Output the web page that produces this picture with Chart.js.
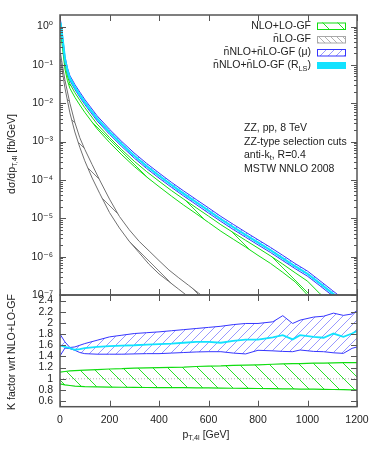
<!DOCTYPE html>
<html>
<head>
<meta charset="utf-8">
<script src="https://cdn.jsdelivr.net/npm/chart.js@4.4.1/dist/chart.umd.min.js"></script>
<style>
    html, body { margin: 0; padding: 0; background: #fff; }
    #wrap { position: relative; width: 374px; height: 449px; }
    #wrap canvas { position: absolute; left: 0; }
</style>
</head>
<body>
<div id="wrap">
    <canvas id="top" width="374" height="305" style="top:0"></canvas>
    <canvas id="bot" width="374" height="159" style="top:290px"></canvas>
</div>
<script>
// top panel: dsigma/dpT,4l [fb/GeV]
const ptTop = [2, 10, 20, 30, 40, 60, 80, 100, 150, 200, 250, 300, 350, 400, 450, 500, 550, 600, 650, 700, 750, 800, 850, 900, 950, 1000, 1050, 1100, 1150, 1200];
const nnloRls = [1.26, 0.50, 0.141, 0.0708, 0.0447, 0.0263, 0.0166, 0.0107, 3.98e-3, 1.78e-3, 8.5e-4, 4.27e-4, 2.29e-4, 1.29e-4, 7.4e-5, 4.37e-5, 2.63e-5, 1.58e-5, 9.5e-6, 5.9e-6, 3.7e-6, 2.34e-6, 1.48e-6, 9.1e-7, 5.6e-7, 3.55e-7, 2.0e-7, 1.12e-7, 6.3e-8, 3.5e-8];
const nnloMuUp = [1.48, 0.59, 0.166, 0.0835, 0.0527, 0.031, 0.0196, 0.0126, 4.7e-3, 2.1e-3, 1.0e-3, 5.03e-4, 2.7e-4, 1.52e-4, 8.7e-5, 5.15e-5, 3.1e-5, 1.87e-5, 1.12e-5, 6.95e-6, 4.36e-6, 2.76e-6, 1.75e-6, 1.08e-6, 6.6e-7, 4.2e-7, 2.36e-7, 1.32e-7, 7.4e-8, 4.1e-8];
const nnloMuDn = [1.1, 0.435, 0.123, 0.0616, 0.0389, 0.0229, 0.0144, 9.3e-3, 3.46e-3, 1.55e-3, 7.4e-4, 3.72e-4, 1.99e-4, 1.12e-4, 6.45e-5, 3.8e-5, 2.29e-5, 1.37e-5, 8.3e-6, 5.1e-6, 3.22e-6, 2.03e-6, 1.29e-6, 7.9e-7, 4.87e-7, 3.09e-7, 1.74e-7, 9.7e-8, 5.5e-8, 3.0e-8];
const nloUp = [0.91, 0.36, 0.1015, 0.051, 0.0322, 0.0189, 0.012, 7.7e-3, 2.87e-3, 1.28e-3, 6.1e-4, 3.07e-4, 1.65e-4, 9.3e-5, 5.3e-5, 3.15e-5, 1.89e-5, 1.14e-5, 6.8e-6, 4.25e-6, 2.66e-6, 1.68e-6, 1.05e-6, 6.4e-7, 3.8e-7, 2.3e-7, 1.08e-7, 5.8e-8, 3.2e-8, 1.8e-8];
const nloDn = [0.71, 0.28, 0.078, 0.039, 0.0246, 0.0143, 9.0e-3, 5.8e-3, 2.15e-3, 9.5e-4, 4.5e-4, 2.25e-4, 1.2e-4, 6.7e-5, 3.8e-5, 2.2e-5, 1.32e-5, 7.8e-6, 4.6e-6, 2.85e-6, 1.78e-6, 1.08e-6, 6.7e-7, 3.9e-7, 2.2e-7, 1.0e-7, 5.5e-8, 3.0e-8, 1.7e-8, 1.0e-8];

const ptLO = [2, 20, 40, 60, 80, 100, 130, 160, 200, 240, 280, 320, 360, 400, 440, 480, 520, 560, 600];
const loUp = [0.2, 0.04, 0.01, 3.16e-3, 1.26e-3, 6.3e-4, 2.5e-4, 1.0e-4, 3.16e-5, 1.12e-5, 5.0e-6, 2.5e-6, 1.41e-6, 7.9e-7, 4.5e-7, 2.8e-7, 1.78e-7, 1.12e-7, 7.1e-8];
const loDn = [0.141, 0.025, 5.6e-3, 1.78e-3, 7.1e-4, 3.16e-4, 1.12e-4, 4.5e-5, 1.41e-5, 5.6e-6, 2.5e-6, 1.26e-6, 6.3e-7, 3.55e-7, 2.24e-7, 1.41e-7, 8.9e-8, 5.6e-8, 3.5e-8];

// bottom panel: K factor wrt NLO+LO-GF
const ptK = [0, 20, 40, 60, 80, 100, 150, 200, 250, 300, 350, 400, 450, 500, 550, 600, 650, 700, 750, 800, 860, 900, 940, 970, 1025, 1065, 1105, 1145, 1180, 1200];
const kMuUp = [1.80, 1.66, 1.56, 1.57, 1.60, 1.63, 1.69, 1.75, 1.78, 1.81, 1.825, 1.84, 1.86, 1.88, 1.90, 1.92, 1.94, 1.97, 1.99, 1.99, 2.02, 2.13, 1.99, 2.05, 2.105, 2.12, 2.175, 2.135, 2.16, 2.22];
const kRls = [1.60, 1.57, 1.55, 1.52, 1.53, 1.55, 1.57, 1.585, 1.595, 1.60, 1.61, 1.62, 1.63, 1.645, 1.66, 1.66, 1.645, 1.68, 1.70, 1.70, 1.74, 1.78, 1.705, 1.78, 1.75, 1.735, 1.81, 1.75, 1.81, 1.855];
const kMuDn = [1.41, 1.55, 1.54, 1.51, 1.47, 1.45, 1.44, 1.44, 1.44, 1.445, 1.45, 1.45, 1.46, 1.47, 1.48, 1.485, 1.485, 1.46, 1.445, 1.51, 1.50, 1.49, 1.485, 1.515, 1.49, 1.485, 1.465, 1.455, 1.545, 1.57];
const kNloUp = [1.12, 1.13, 1.14, 1.145, 1.15, 1.155, 1.165, 1.175, 1.18, 1.19, 1.195, 1.20, 1.205, 1.21, 1.22, 1.225, 1.23, 1.24, 1.245, 1.25, 1.26, 1.265, 1.27, 1.27, 1.28, 1.28, 1.285, 1.29, 1.29, 1.29];
const kNloDn = [0.91, 0.89, 0.88, 0.87, 0.865, 0.86, 0.855, 0.85, 0.848, 0.845, 0.844, 0.843, 0.842, 0.84, 0.838, 0.836, 0.834, 0.83, 0.828, 0.826, 0.823, 0.82, 0.818, 0.816, 0.813, 0.81, 0.808, 0.805, 0.802, 0.80];
const unityX = [0, 1200];
const unityY = [1, 1];

// ticks
const xTicks = [0, 200, 400, 600, 800, 1000, 1200];
const logTicks = [1e-7, 1e-6, 1e-5, 1e-4, 1e-3, 1e-2, 1e-1, 1];
const logTickLabels = ['10⁻⁷', '10⁻⁶', '10⁻⁵', '10⁻⁴', '10⁻³', '10⁻²', '10⁻¹', '10⁰'];
const kTicks = [0.6, 0.8, 1.0, 1.2, 1.4, 1.6, 1.8, 2.0, 2.2, 2.4];
const kTickLabels = ['0.6', '0.8', '1', '1.2', '1.4', '1.6', '1.8', '2', '2.2', '2.4'];

const FONT = '"Liberation Sans", Arial, "DejaVu Sans", sans-serif';
const GREEN = '#11dd11', GRAY = '#707070', GRAY_H = '#a8a8a8', BLUE = '#3535ff', BLUE_H = '#8c8cff', CYAN = '#12e2ff';

const hatch = (ctx, color, gap, dir) => {
    const c = document.createElement('canvas');
    c.width = gap; c.height = gap;
    const g = c.getContext('2d');
    g.strokeStyle = color;
    g.lineWidth = 0.9;
    g.beginPath();
    if (dir > 0) {
        g.moveTo(-1, gap + 1); g.lineTo(gap + 1, -1);
    } else {
        g.moveTo(-1, -1); g.lineTo(gap + 1, gap + 1);
    }
    g.stroke();
    return ctx.createPattern(c, 'repeat');
};

const xy = (xs, ys) => xs.map((x, i) => ({ x, y: ys[i] }));
const line = (label, xs, ys, color, extra) => Object.assign({
    label, data: xy(xs, ys), borderColor: color, borderWidth: 1,
    pointRadius: 0, tension: 0, fill: false
}, extra);

// no extra room for the end tick labels, the panels must line up
const noPad = s => { s.paddingTop = 0; s.paddingBottom = 0; s.paddingLeft = 0; s.paddingRight = 0; };

// text with subscripts: parts = [[text, 'sub'|undefined], ...]
const richWidth = (ctx, parts, size) => parts.reduce((w, [t, k]) => {
    ctx.font = `${k ? size * 0.7 : size}px ${FONT}`;
    return w + ctx.measureText(t).width;
}, 0);
const drawRich = (ctx, parts, x, y, size, align) => {
    const w = richWidth(ctx, parts, size);
    let cx = align === 'right' ? x - w : align === 'center' ? x - w / 2 : x;
    ctx.textBaseline = 'middle';
    ctx.textAlign = 'left';
    parts.forEach(([t, k]) => {
        ctx.font = `${k ? size * 0.7 : size}px ${FONT}`;
        ctx.fillText(t, cx, k === 'sub' ? y + 3 : y);
        cx += ctx.measureText(t).width;
    });
};

// inward ticks on all four sides + frame
const framePlugin = {
    id: 'frame',
    afterDatasetsDraw(chart, args, opts) {
        const { ctx, chartArea: a, scales } = chart;
        ctx.save();
        ctx.strokeStyle = '#555';
        ctx.lineWidth = 1;
        ctx.beginPath();
        xTicks.forEach(v => {
            const px = Math.round(scales.x.getPixelForValue(v)) + 0.5;
            ctx.moveTo(px, a.bottom); ctx.lineTo(px, a.bottom - 6);
            ctx.moveTo(px, a.top); ctx.lineTo(px, a.top + 6);
        });
        opts.yTicks.forEach(([v, major]) => {
            const py = Math.round(scales.y.getPixelForValue(v)) + 0.5;
            const len = major ? 6 : 3;
            ctx.moveTo(a.left, py); ctx.lineTo(a.left + len, py);
            ctx.moveTo(a.right, py); ctx.lineTo(a.right - len, py);
        });
        ctx.stroke();
        ctx.lineWidth = 1.5;
        ctx.strokeRect(a.left, a.top, a.right - a.left, a.bottom - a.top);
        ctx.restore();
    }
};

// ---------- top panel ----------
const topCtx = document.getElementById('top').getContext('2d');
const greenHatch = hatch(topCtx, GREEN, 15, -1);
const grayHatch = hatch(topCtx, GRAY_H, 6, -1);
const grayHatchPlot = hatch(topCtx, GRAY, 16, -1);
const blueHatch = hatch(topCtx, BLUE_H, 8, 1);

const minorLog = [];
logTicks.forEach(d => { minorLog.push([d, true]); if (d < 1) for (let m = 2; m <= 9; m++) minorLog.push([d * m, false]); });

const legendRows = [
    { parts: [['NLO+LO-GF']], y: 26, fill: greenHatch, stroke: GREEN },
    { parts: [['n\u0304LO-GF']], y: 39.5, fill: grayHatch, stroke: GRAY_H },
    { parts: [['n\u0304NLO+n\u0304LO-GF (μ)']], y: 52.5, fill: blueHatch, stroke: BLUE },
    { parts: [['n\u0304NLO+n\u0304LO-GF (R'], ['LS', 'sub'], [')']], y: 65.5, fill: CYAN, stroke: null }
];
const infoRows = [
    [['ZZ, pp, 8 TeV']],
    [['ZZ-type selection cuts']],
    [['anti-k'], ['t', 'sub'], [', R=0.4']],
    [['MSTW NNLO 2008']]
];

const topText = {
    id: 'topText',
    afterDraw(chart) {
        const ctx = chart.ctx;
        ctx.save();
        ctx.fillStyle = '#222';
        legendRows.forEach(r => {
            drawRich(ctx, r.parts, 311, r.y, 10.5, 'right');
            ctx.fillStyle = r.fill;
            ctx.fillRect(317, r.y - 3.5, 29, 7);
            if (r.stroke) {
                ctx.strokeStyle = r.stroke;
                ctx.lineWidth = 1;
                ctx.strokeRect(317.5, r.y - 3, 28, 6.5);
            }
            ctx.fillStyle = '#222';
        });
        infoRows.forEach((parts, i) => drawRich(ctx, parts, 244, 128.5 + i * 13.4, 10.5, 'left'));
        ctx.translate(12, 154);
        ctx.rotate(-Math.PI / 2);
        drawRich(ctx, [['dσ/dp'], ['T,4l', 'sub'], [' [fb/GeV]']], 0, 0, 10.5, 'center');
        ctx.restore();
    }
};

new Chart(topCtx, {
    type: 'line',
    data: {
        datasets: [
            line('nNLO+nLO-GF (RLS)', ptTop, nnloRls, CYAN, { borderWidth: 2.2 }),
            line('mu up', ptTop, nnloMuUp, BLUE),
            line('nNLO+nLO-GF (mu)', ptTop, nnloMuDn, BLUE, { fill: '-1', backgroundColor: blueHatch }),
            line('nlo up', ptTop, nloUp, GREEN),
            line('NLO+LO-GF', ptTop, nloDn, GREEN, { fill: '-1', backgroundColor: greenHatch }),
            line('lo up', ptLO, loUp, GRAY),
            line('nLO-GF', ptLO, loDn, GRAY, { fill: '-1', backgroundColor: grayHatchPlot })
        ]
    },
    options: {
        responsive: false,
        animation: false,
        layout: { padding: { top: 15, right: 17, bottom: 10, left: 0 } },
        plugins: { legend: { display: false }, tooltip: { enabled: false }, frame: { yTicks: minorLog } },
        scales: {
            x: {
                type: 'linear', min: 0, max: 1200,
                ticks: { display: false },
                grid: { display: false, drawTicks: false },
                border: { display: false },
                afterFit: s => { s.height = 0; noPad(s); }
            },
            y: {
                type: 'logarithmic', min: 1e-7, max: 2,
                afterBuildTicks: s => { s.ticks = logTicks.map(value => ({ value })); },
                ticks: {
                    autoSkip: false, padding: 7, color: '#222',
                    font: { family: FONT, size: 10.5 },
                    callback: (v, i) => logTickLabels[i]
                },
                grid: { display: false, drawTicks: false },
                border: { display: false },
                afterFit: s => { s.width = 60; noPad(s); }
            }
        }
    },
    plugins: [framePlugin, topText]
});

// ---------- bottom panel ----------
const botCtx = document.getElementById('bot').getContext('2d');
const greenHatchB = hatch(botCtx, GREEN, 15, -1);
const blueHatchB = hatch(botCtx, BLUE_H, 9, 1);

const botText = {
    id: 'botText',
    afterDraw(chart) {
        const ctx = chart.ctx;
        ctx.save();
        ctx.fillStyle = '#222';
        drawRich(ctx, [['p'], ['T,4l', 'sub'], [' [GeV]']], 206, 145, 10.5, 'center');
        ctx.translate(12, 62);
        ctx.rotate(-Math.PI / 2);
        drawRich(ctx, [['K factor wrt NLO+LO-GF']], 0, 0, 10.5, 'center');
        ctx.restore();
    }
};

new Chart(botCtx, {
    type: 'line',
    data: {
        datasets: [
            line('RLS', ptK, kRls, CYAN, { borderWidth: 1.8 }),
            line('mu up', ptK, kMuUp, BLUE),
            line('mu dn', ptK, kMuDn, BLUE, { fill: '-1', backgroundColor: blueHatchB }),
            line('nlo up', ptK, kNloUp, GREEN, { borderWidth: 1.2 }),
            line('nlo dn', ptK, kNloDn, GREEN, { borderWidth: 1.2, fill: '-1', backgroundColor: greenHatchB }),
            line('unity', unityX, unityY, '#b0b0b0', { borderDash: [1, 2] })
        ]
    },
    options: {
        responsive: false,
        animation: false,
        layout: { padding: { top: 5, right: 17, bottom: 0, left: 0 } },
        plugins: { legend: { display: false }, tooltip: { enabled: false }, frame: { yTicks: kTicks.map(v => [v, true]) } },
        scales: {
            x: {
                type: 'linear', min: 0, max: 1200,
                afterBuildTicks: s => { s.ticks = xTicks.map(value => ({ value })); },
                ticks: {
                    autoSkip: false, maxRotation: 0, padding: 7, color: '#222',
                    font: { family: FONT, size: 10.5 },
                    callback: v => String(v)
                },
                grid: { display: false, drawTicks: false },
                border: { display: false },
                afterFit: s => { s.height = 42.3; noPad(s); }
            },
            y: {
                type: 'linear', min: 0.5, max: 2.5,
                afterBuildTicks: s => { s.ticks = kTicks.map(value => ({ value })); },
                ticks: {
                    autoSkip: false, padding: 7, color: '#222',
                    font: { family: FONT, size: 10.5 },
                    callback: (v, i) => kTickLabels[i]
                },
                grid: { display: false, drawTicks: false },
                border: { display: false },
                afterFit: s => { s.width = 60; noPad(s); }
            }
        }
    },
    plugins: [framePlugin, botText]
});
</script>
</body>
</html>
